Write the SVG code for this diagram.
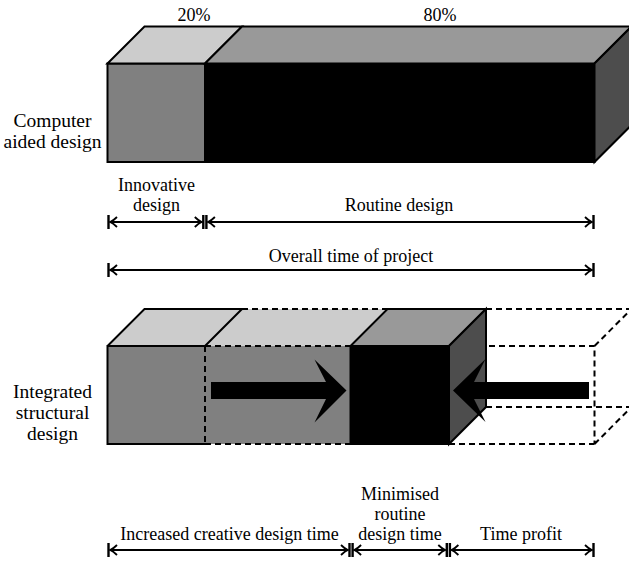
<svg xmlns="http://www.w3.org/2000/svg" width="629" height="562" viewBox="0 0 629 562">
<defs>
<style>
text{font-family:"Liberation Serif","Times New Roman",serif;font-size:18px;fill:#000;text-anchor:middle}
.lbl{font-size:19.5px}
.s{stroke:#000;stroke-width:2;stroke-linejoin:miter}
.d{stroke:#000;stroke-width:2;stroke-dasharray:6 4;fill:none}
.dim{stroke:#000;stroke-width:2;fill:none;marker-start:url(#ah);marker-end:url(#ah)}
.tk{stroke:#000;stroke-width:2.4}
</style>
<marker id="ah" markerWidth="12" markerHeight="12" refX="0" refY="0" viewBox="-10 -6 12 12" orient="auto-start-reverse" markerUnits="userSpaceOnUse">
<path d="M-7,-5 Q-3,-1 0,0 Q-3,1 -7,5" fill="none" stroke="#000" stroke-width="1.8"/>
</marker>
</defs>
<rect width="629" height="562" fill="#fff"/>

<g id="labels-top">
<text x="194" y="21">20%</text>
<text x="440" y="21">80%</text>
</g>

<g id="cad-label">
<text class="lbl" x="52.5" y="127">Computer</text>
<text class="lbl" x="52.5" y="148">aided design</text>
</g>

<g id="box-cad">
<rect class="s" x="107.5" y="63.5" width="97.5" height="98.5" fill="#808080"/>
<rect class="s" x="205" y="63.5" width="389.5" height="98.5" fill="#000"/>
<polygon class="s" points="107.5,63.5 144.5,26.5 242,26.5 205,63.5" fill="#ccc"/>
<polygon class="s" points="205,63.5 242,26.5 631.5,26.5 594.5,63.5" fill="#999"/>
<polygon class="s" points="594.5,63.5 631.5,26.5 631.5,125 594.5,162" fill="#4d4d4d"/>
</g>

<g id="isd-label">
<text class="lbl" x="52.5" y="398">Integrated</text>
<text class="lbl" x="52.5" y="419">structural</text>
<text class="lbl" x="52.5" y="440">design</text>
</g>

<g id="box-isd">
<rect x="107.5" y="346" width="243" height="98" fill="#808080"/>
<polygon points="107.5,346 144.5,309 387.5,309 350.5,346" fill="#ccc"/>
<path class="s" d="M205,346 H107.5 V444 H205" fill="none"/>
<path class="s" d="M107.5,346 L144.5,309 H242 M205,346 L242,309" fill="none"/>
<path class="d" d="M205,346 V444 M205,346 H350.5 M205,444 H350.5 M242,309 H387.5"/>
<path class="d" d="M486,309 H631.5 M449,346 H594.5 V444 M449,444 H594.5 M594.5,346 L631.5,309 M594.5,444 L631.5,407 M486,407 H631.5"/>
<rect class="s" x="350.5" y="346" width="98.5" height="98" fill="#000"/>
<polygon class="s" points="350.5,346 387.5,309 486,309 449,346" fill="#999"/>
<polygon class="s" points="449,346 486,309 486,407 449,444" fill="#4d4d4d"/>
</g>

<g id="arrow-right">
<polygon points="211,382 326,382 314.5,359.5 346.5,390.5 314.5,422.5 326,399 211,399" fill="#000"/>
</g>
<g id="arrow-left">
<polygon points="589,382 474,382 485.5,359 453,390.5 485.5,422 474,399 589,399" fill="#000"/>
</g>

<g id="connectors">
<line class="tk" x1="108.5" y1="215" x2="108.5" y2="229"/>
<line class="tk" x1="203.3" y1="215" x2="203.3" y2="229"/>
<line class="tk" x1="206.4" y1="215" x2="206.4" y2="229"/>
<line class="tk" x1="593.5" y1="215" x2="593.5" y2="229"/>
<line class="dim" x1="110" y1="222" x2="201.8" y2="222"/>
<line class="dim" x1="207.9" y1="222" x2="592" y2="222"/>

<line class="tk" x1="108.5" y1="263" x2="108.5" y2="277"/>
<line class="tk" x1="593.5" y1="263" x2="593.5" y2="277"/>
<line class="dim" x1="110" y1="270" x2="592" y2="270"/>

<line class="tk" x1="108.5" y1="543" x2="108.5" y2="557"/>
<line class="tk" x1="349.5" y1="543" x2="349.5" y2="557"/>
<line class="tk" x1="352.6" y1="543" x2="352.6" y2="557"/>
<line class="tk" x1="446.8" y1="543" x2="446.8" y2="557"/>
<line class="tk" x1="449.9" y1="543" x2="449.9" y2="557"/>
<line class="tk" x1="593.5" y1="543" x2="593.5" y2="557"/>
<line class="dim" x1="110" y1="550" x2="348" y2="550"/>
<line class="dim" x1="354.1" y1="550" x2="445.3" y2="550"/>
<line class="dim" x1="451.4" y1="550" x2="592" y2="550"/>
</g>

<g id="dim-labels">
<text x="156.5" y="191">Innovative</text>
<text x="156.5" y="211">design</text>
<text x="399" y="211">Routine design</text>
<text x="351" y="262">Overall time of project</text>
<text x="229.5" y="540">Increased creative design time</text>
<text x="400" y="500">Minimised</text>
<text x="400" y="520">routine</text>
<text x="400" y="540">design time</text>
<text x="521" y="540">Time profit</text>
</g>
</svg>
